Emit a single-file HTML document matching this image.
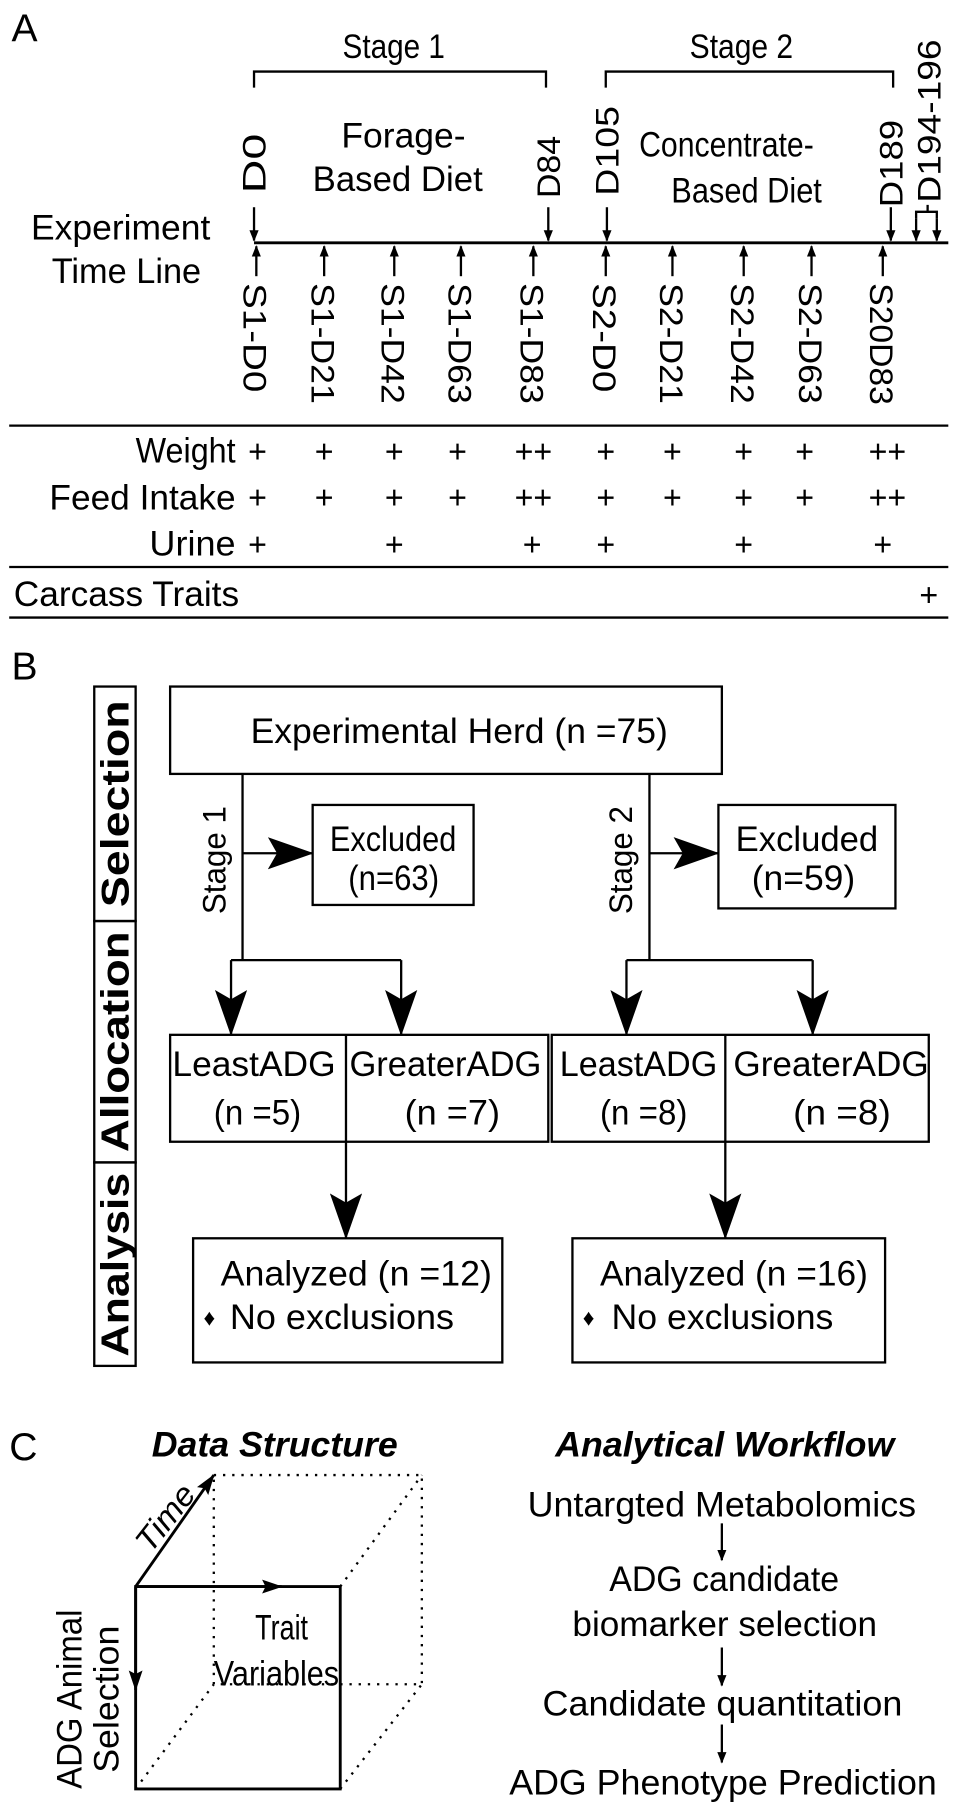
<!DOCTYPE html>
<html><head><meta charset="utf-8"><style>
html,body{margin:0;padding:0;background:#fff}
svg{display:block}
text{font-family:"Liberation Sans Narrow","Liberation Sans",sans-serif;fill:#000}
.r{font-family:"Liberation Sans",sans-serif}
</style></head><body>
<svg width="969" height="1803" viewBox="0 0 843 1568" xmlns="http://www.w3.org/2000/svg">
<defs>
<marker id="ah" markerWidth="10" markerHeight="10" refX="9" refY="5" orient="auto" markerUnits="userSpaceOnUse"><path d="M0,1 L10,5 L0,9 Z" fill="#000"/></marker>
<marker id="big" markerWidth="40" markerHeight="28" refX="39" refY="14" orient="auto" markerUnits="userSpaceOnUse"><path d="M0,0 L40,14 L0,28 L8,14 Z" fill="#000"/></marker>
<marker id="mid" markerWidth="18" markerHeight="12" refX="17" refY="6" orient="auto" markerUnits="userSpaceOnUse"><path d="M0,0 L18,6 L0,12 L3,6 Z" fill="#000"/></marker>
</defs>

<!-- PANEL A -->
<g>
<text x="10" y="36" font-size="34" class="r">A</text>
<text x="298" y="50" font-size="30" textLength="89" lengthAdjust="spacingAndGlyphs">Stage 1</text>
<text x="600" y="50" font-size="30" textLength="90" lengthAdjust="spacingAndGlyphs">Stage 2</text>
<path d="M221,76 V62 H475 V76" fill="none" stroke="#000" stroke-width="2"/>
<path d="M527,76 V62 H777 V76" fill="none" stroke="#000" stroke-width="2"/>
<text x="297" y="128" font-size="31" textLength="108" lengthAdjust="spacingAndGlyphs">Forage-</text>
<text x="272" y="166" font-size="31" textLength="148" lengthAdjust="spacingAndGlyphs">Based Diet</text>
<text x="556" y="136" font-size="31" textLength="152" lengthAdjust="spacingAndGlyphs">Concentrate-</text>
<text x="584" y="176" font-size="31" textLength="131" lengthAdjust="spacingAndGlyphs">Based Diet</text>
<text x="27" y="208" font-size="31" textLength="156" lengthAdjust="spacingAndGlyphs">Experiment</text>
<text x="45" y="246" font-size="31" textLength="130" lengthAdjust="spacingAndGlyphs">Time Line</text>
<line x1="221" y1="211" x2="825" y2="211" stroke="#000" stroke-width="2.5"/>
<g stroke="#000" stroke-width="2">
<line x1="221" y1="180" x2="221" y2="209" marker-end="url(#ah)"/>
<line x1="477" y1="180" x2="477" y2="209" marker-end="url(#ah)"/>
<line x1="528" y1="180" x2="528" y2="209" marker-end="url(#ah)"/>
<line x1="775" y1="180" x2="775" y2="209" marker-end="url(#ah)"/>
<line x1="797" y1="190" x2="797" y2="209" marker-end="url(#ah)"/>
<line x1="815" y1="190" x2="815" y2="209" marker-end="url(#ah)"/>
<path d="M797,190 V184 H815 V190 M807,184 V178" fill="none"/>
</g>
<g font-size="28" class="r">
<text transform="translate(231,168) rotate(-90)" textLength="52" lengthAdjust="spacingAndGlyphs">D0</text>
<text transform="translate(487,172) rotate(-90)" textLength="54" lengthAdjust="spacingAndGlyphs">D84</text>
<text transform="translate(538,170) rotate(-90)" textLength="78" lengthAdjust="spacingAndGlyphs">D105</text>
<text transform="translate(785,180) rotate(-90)" textLength="76" lengthAdjust="spacingAndGlyphs">D189</text>
<text transform="translate(818,176) rotate(-90)" textLength="142" lengthAdjust="spacingAndGlyphs">D194-196</text>
</g>
<g stroke="#000" stroke-width="2">
<line x1="223" y1="240" x2="223" y2="214" marker-end="url(#ah)"/>
<line x1="282" y1="240" x2="282" y2="214" marker-end="url(#ah)"/>
<line x1="343" y1="240" x2="343" y2="214" marker-end="url(#ah)"/>
<line x1="401" y1="240" x2="401" y2="214" marker-end="url(#ah)"/>
<line x1="464" y1="240" x2="464" y2="214" marker-end="url(#ah)"/>
<line x1="527" y1="240" x2="527" y2="214" marker-end="url(#ah)"/>
<line x1="585" y1="240" x2="585" y2="214" marker-end="url(#ah)"/>
<line x1="647" y1="240" x2="647" y2="214" marker-end="url(#ah)"/>
<line x1="706" y1="240" x2="706" y2="214" marker-end="url(#ah)"/>
<line x1="768" y1="240" x2="768" y2="214" marker-end="url(#ah)"/>
</g>
<g font-size="28" class="r">
<text transform="translate(212,246) rotate(90)" textLength="95" lengthAdjust="spacingAndGlyphs">S1-D0</text>
<text transform="translate(271,246) rotate(90)" textLength="105" lengthAdjust="spacingAndGlyphs">S1-D21</text>
<text transform="translate(332,246) rotate(90)" textLength="105" lengthAdjust="spacingAndGlyphs">S1-D42</text>
<text transform="translate(390,246) rotate(90)" textLength="105" lengthAdjust="spacingAndGlyphs">S1-D63</text>
<text transform="translate(453,246) rotate(90)" textLength="105" lengthAdjust="spacingAndGlyphs">S1-D83</text>
<text transform="translate(516,246) rotate(90)" textLength="95" lengthAdjust="spacingAndGlyphs">S2-D0</text>
<text transform="translate(574,246) rotate(90)" textLength="105" lengthAdjust="spacingAndGlyphs">S2-D21</text>
<text transform="translate(636,246) rotate(90)" textLength="105" lengthAdjust="spacingAndGlyphs">S2-D42</text>
<text transform="translate(695,246) rotate(90)" textLength="105" lengthAdjust="spacingAndGlyphs">S2-D63</text>
<text transform="translate(757,246) rotate(90)" textLength="106" lengthAdjust="spacingAndGlyphs">S20D83</text>
</g>
<line x1="8" y1="370" x2="825" y2="370" stroke="#000" stroke-width="2"/>
<text x="118" y="402" font-size="31" textLength="87" lengthAdjust="spacingAndGlyphs">Weight</text>
<text x="43" y="443" font-size="31" textLength="162" lengthAdjust="spacingAndGlyphs">Feed Intake</text>
<text x="130" y="483" font-size="31" textLength="75" lengthAdjust="spacingAndGlyphs">Urine</text>
<g font-size="28" class="r" text-anchor="middle">
<text x="224" y="402">+</text><text x="282" y="402">+</text><text x="343" y="402">+</text><text x="398" y="402">+</text><text x="464" y="402">++</text><text x="527" y="402">+</text><text x="585" y="402">+</text><text x="647" y="402">+</text><text x="700" y="402">+</text><text x="772" y="402">++</text>
<text x="224" y="442">+</text><text x="282" y="442">+</text><text x="343" y="442">+</text><text x="398" y="442">+</text><text x="464" y="442">++</text><text x="527" y="442">+</text><text x="585" y="442">+</text><text x="647" y="442">+</text><text x="700" y="442">+</text><text x="772" y="442">++</text>
<text x="224" y="483">+</text><text x="343" y="483">+</text><text x="463" y="483">+</text><text x="527" y="483">+</text><text x="647" y="483">+</text><text x="768" y="483">+</text>
<text x="808" y="527">+</text>
</g>
<line x1="8" y1="493" x2="825" y2="493" stroke="#000" stroke-width="2"/>
<text x="12" y="527" font-size="31" textLength="196" lengthAdjust="spacingAndGlyphs">Carcass Traits</text>
<line x1="8" y1="537" x2="825" y2="537" stroke="#000" stroke-width="2"/>
</g>

<!-- PANEL B -->
<g fill="none" stroke="#000" stroke-width="2">
<text x="10" y="591" font-size="34" class="r" stroke="none">B</text>
<rect x="82" y="597" width="36" height="204"/>
<rect x="82" y="801" width="36" height="210"/>
<rect x="82" y="1011" width="36" height="177"/>
<g stroke="none" font-size="34" font-weight="bold" class="r" text-anchor="middle">
<text transform="translate(112,699) rotate(-90)" textLength="180" lengthAdjust="spacingAndGlyphs">Selection</text>
<text transform="translate(112,906) rotate(-90)" textLength="192" lengthAdjust="spacingAndGlyphs">Allocation</text>
<text transform="translate(112,1100) rotate(-90)" textLength="160" lengthAdjust="spacingAndGlyphs">Analysis</text>
</g>
<rect x="148" y="597" width="480" height="76"/>
<text x="218" y="646" font-size="31" stroke="none" textLength="363" lengthAdjust="spacingAndGlyphs">Experimental Herd (n =75)</text>
<!-- stage 1 -->
<path d="M211,673 V835 M201,835 H349"/>
<line x1="211" y1="742" x2="272" y2="742" marker-end="url(#big)"/>
<text transform="translate(196,748) rotate(-90)" font-size="28" class="r" text-anchor="middle" stroke="none" textLength="94" lengthAdjust="spacingAndGlyphs">Stage 1</text>
<rect x="272" y="700" width="140" height="87"/>
<text x="287" y="740" font-size="31" stroke="none" textLength="110" lengthAdjust="spacingAndGlyphs">Excluded</text>
<text x="303" y="774" font-size="31" stroke="none" textLength="79" lengthAdjust="spacingAndGlyphs">(n=63)</text>
<line x1="201" y1="835" x2="201" y2="900" marker-end="url(#big)"/>
<line x1="349" y1="835" x2="349" y2="900" marker-end="url(#big)"/>
<rect x="148" y="900" width="329" height="93"/>
<line x1="301" y1="900" x2="301" y2="993"/>
<g stroke="none" font-size="31">
<text x="150" y="936" textLength="142" lengthAdjust="spacingAndGlyphs">LeastADG</text>
<text x="186" y="978" textLength="76" lengthAdjust="spacingAndGlyphs">(n =5)</text>
<text x="304" y="936" textLength="167" lengthAdjust="spacingAndGlyphs">GreaterADG</text>
<text x="352" y="978" textLength="83" lengthAdjust="spacingAndGlyphs">(n =7)</text>
</g>
<line x1="301" y1="993" x2="301" y2="1077" marker-end="url(#big)"/>
<rect x="168" y="1077" width="269" height="108"/>
<g stroke="none" font-size="31">
<text x="192" y="1118" textLength="236" lengthAdjust="spacingAndGlyphs">Analyzed (n =12)</text>
<text x="177" y="1153" font-size="20" class="r">♦</text>
<text x="200" y="1156" textLength="195" lengthAdjust="spacingAndGlyphs">No exclusions</text>
</g>
<!-- stage 2 -->
<path d="M565,673 V835 M545,835 H707"/>
<line x1="565" y1="742" x2="625" y2="742" marker-end="url(#big)"/>
<text transform="translate(550,748) rotate(-90)" font-size="28" class="r" text-anchor="middle" stroke="none" textLength="94" lengthAdjust="spacingAndGlyphs">Stage 2</text>
<rect x="625" y="700" width="154" height="90"/>
<text x="640" y="740" font-size="31" stroke="none" textLength="124" lengthAdjust="spacingAndGlyphs">Excluded</text>
<text x="654" y="774" font-size="31" stroke="none" textLength="90" lengthAdjust="spacingAndGlyphs">(n=59)</text>
<line x1="545" y1="835" x2="545" y2="900" marker-end="url(#big)"/>
<line x1="707" y1="835" x2="707" y2="900" marker-end="url(#big)"/>
<rect x="480" y="900" width="328" height="93"/>
<line x1="631" y1="900" x2="631" y2="993"/>
<g stroke="none" font-size="31">
<text x="487" y="936" textLength="137" lengthAdjust="spacingAndGlyphs">LeastADG</text>
<text x="522" y="978" textLength="76" lengthAdjust="spacingAndGlyphs">(n =8)</text>
<text x="638" y="936" textLength="170" lengthAdjust="spacingAndGlyphs">GreaterADG</text>
<text x="690" y="978" textLength="85" lengthAdjust="spacingAndGlyphs">(n =8)</text>
</g>
<line x1="631" y1="993" x2="631" y2="1077" marker-end="url(#big)"/>
<rect x="498" y="1077" width="272" height="108"/>
<g stroke="none" font-size="31">
<text x="522" y="1118" textLength="233" lengthAdjust="spacingAndGlyphs">Analyzed (n =16)</text>
<text x="507" y="1153" font-size="20" class="r">♦</text>
<text x="532" y="1156" textLength="193" lengthAdjust="spacingAndGlyphs">No exclusions</text>
</g>
</g>

<!-- PANEL C -->
<g>
<text x="8" y="1270" font-size="34" class="r">C</text>
<text x="132" y="1267" font-size="31" font-weight="bold" font-style="italic" textLength="214" lengthAdjust="spacingAndGlyphs">Data Structure</text>
<text x="483" y="1267" font-size="31" font-weight="bold" font-style="italic" textLength="295" lengthAdjust="spacingAndGlyphs">Analytical Workflow</text>
<g fill="none" stroke="#000">
<g stroke-width="2" stroke-dasharray="2,6">
<rect x="186" y="1283" width="181" height="182"/>
<line x1="296" y1="1380" x2="367" y2="1283"/>
<line x1="118" y1="1556" x2="186" y2="1465"/>
<line x1="296" y1="1556" x2="367" y2="1465"/>
</g>
<path d="M118,1380 H296 V1556 H118 Z" stroke-width="2.5"/>
<line x1="118" y1="1380" x2="186" y2="1283" stroke-width="2.5" marker-end="url(#mid)"/>
<line x1="118" y1="1380" x2="245" y2="1380" stroke-width="2.5" marker-end="url(#mid)"/>
<line x1="118" y1="1380" x2="118" y2="1470" stroke-width="2.5" marker-end="url(#mid)"/>
</g>
<text transform="translate(131,1352) rotate(-52)" font-size="28" font-style="italic" class="r" textLength="66" lengthAdjust="spacingAndGlyphs">Time</text>
<text x="222" y="1426" font-size="31" textLength="46" lengthAdjust="spacingAndGlyphs">Trait</text>
<text x="186" y="1466" font-size="31" textLength="109" lengthAdjust="spacingAndGlyphs">Variables</text>
<text transform="translate(71,1478) rotate(-90)" font-size="31" class="r" text-anchor="middle" textLength="156" lengthAdjust="spacingAndGlyphs">ADG Animal</text>
<text transform="translate(103,1478) rotate(-90)" font-size="31" class="r" text-anchor="middle" textLength="128" lengthAdjust="spacingAndGlyphs">Selection</text>
<g font-size="31">
<text x="459" y="1319" textLength="338" lengthAdjust="spacingAndGlyphs">Untargted Metabolomics</text>
<text x="530" y="1384" textLength="200" lengthAdjust="spacingAndGlyphs">ADG candidate</text>
<text x="498" y="1423" textLength="265" lengthAdjust="spacingAndGlyphs">biomarker selection</text>
<text x="472" y="1492" textLength="313" lengthAdjust="spacingAndGlyphs">Candidate quantitation</text>
<text x="443" y="1561" textLength="372" lengthAdjust="spacingAndGlyphs">ADG Phenotype Prediction</text>
</g>
<g stroke="#000" stroke-width="2">
<line x1="628" y1="1325" x2="628" y2="1357" marker-end="url(#ah)"/>
<line x1="628" y1="1433" x2="628" y2="1466" marker-end="url(#ah)"/>
<line x1="628" y1="1500" x2="628" y2="1533" marker-end="url(#ah)"/>
</g>
</g>
</svg>
</body></html>
